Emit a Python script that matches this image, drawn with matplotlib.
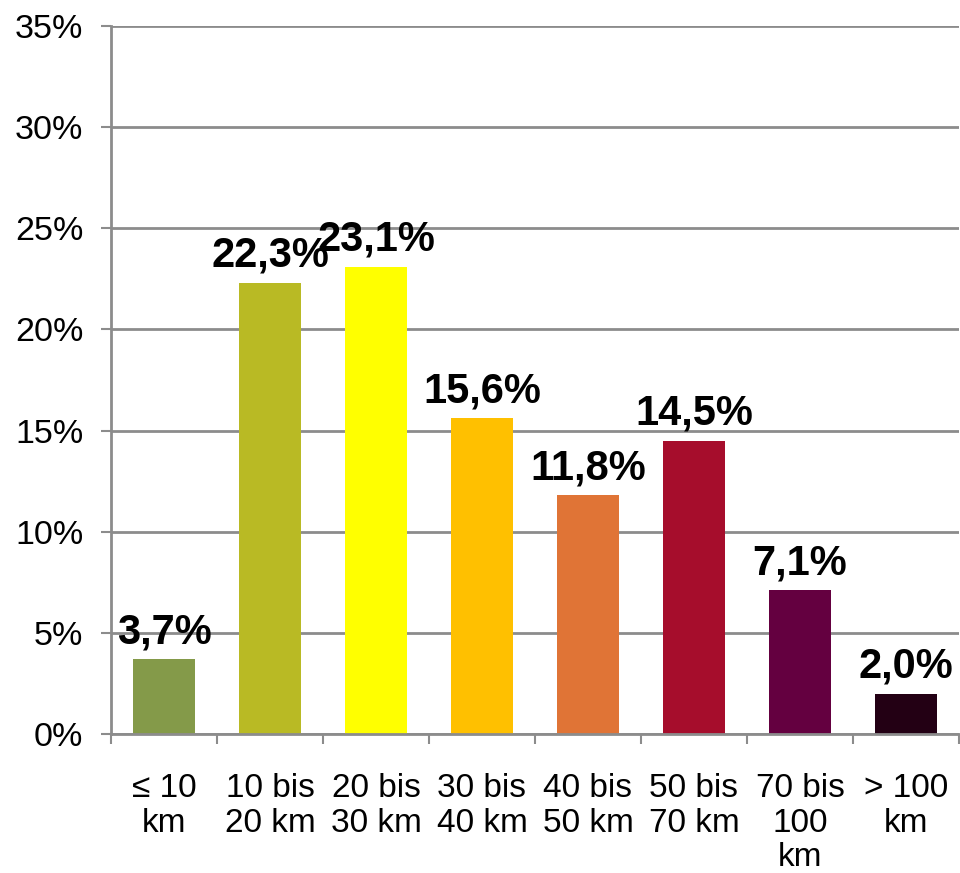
import matplotlib
matplotlib.use("Agg")
import matplotlib.pyplot as plt
import numpy as np

# Anteil nach Entfernungsklasse
categories = ["≤ 10\nkm", "10 bis\n20 km", "20 bis\n30 km", "30 bis\n40 km",
              "40 bis\n50 km", "50 bis\n70 km", "70 bis\n100\nkm", "> 100\nkm"]
values = [3.7, 22.3, 23.1, 15.6, 11.8, 14.5, 7.1, 2.0]
labels = ["3,7%", "22,3%", "23,1%", "15,6%", "11,8%", "14,5%", "7,1%", "2,0%"]
colors = ["#849A49", "#B9BA24", "#FFFF00", "#FFC000",
          "#E07436", "#A60D2C", "#640040", "#230014"]
yticks = [0, 5, 10, 15, 20, 25, 30, 35]

plt.rcParams["font.family"] = ["Liberation Sans", "DejaVu Sans"]
grey = "#8C8C8C"

fig = plt.figure(figsize=(9.6, 8.73), dpi=100)
ax = fig.add_axes([0.1156, 0.1592, 0.8833, 0.811])

x = np.arange(len(values))
ax.bar(x, values, width=0.585, color=colors, zorder=3)

for xi, v, lab in zip(x, values, labels):
    ax.annotate(lab, (xi, v), xytext=(0, 11.5), textcoords="offset points",
                ha="center", va="baseline", fontsize=30, fontweight="bold")

ax.set_xlim(-0.5, len(values) - 0.5)
ax.set_ylim(0, 35)
ax.set_yticks(yticks)
ax.set_yticklabels([f"{t}%" for t in yticks], fontsize=24.5)
ax.yaxis.grid(True, color=grey, linewidth=2, zorder=0)
ax.tick_params(axis="y", length=7, width=1.5, color=grey, pad=13)

ax.set_xticks(x)
ax.set_xticklabels(categories, fontsize=24, linespacing=1.15, va="top")
ax.tick_params(axis="x", which="major", length=0, pad=28)
ax.set_xticks(np.arange(-0.5, len(values)), minor=True)
ax.tick_params(axis="x", which="minor", length=7, width=1.5, color=grey)

for s in ["top", "right"]:
    ax.spines[s].set_visible(False)
for s in ["left", "bottom"]:
    ax.spines[s].set_color(grey)
    ax.spines[s].set_linewidth(2)
    ax.spines[s].set_zorder(4)

fig.savefig("out.png", dpi=100)
